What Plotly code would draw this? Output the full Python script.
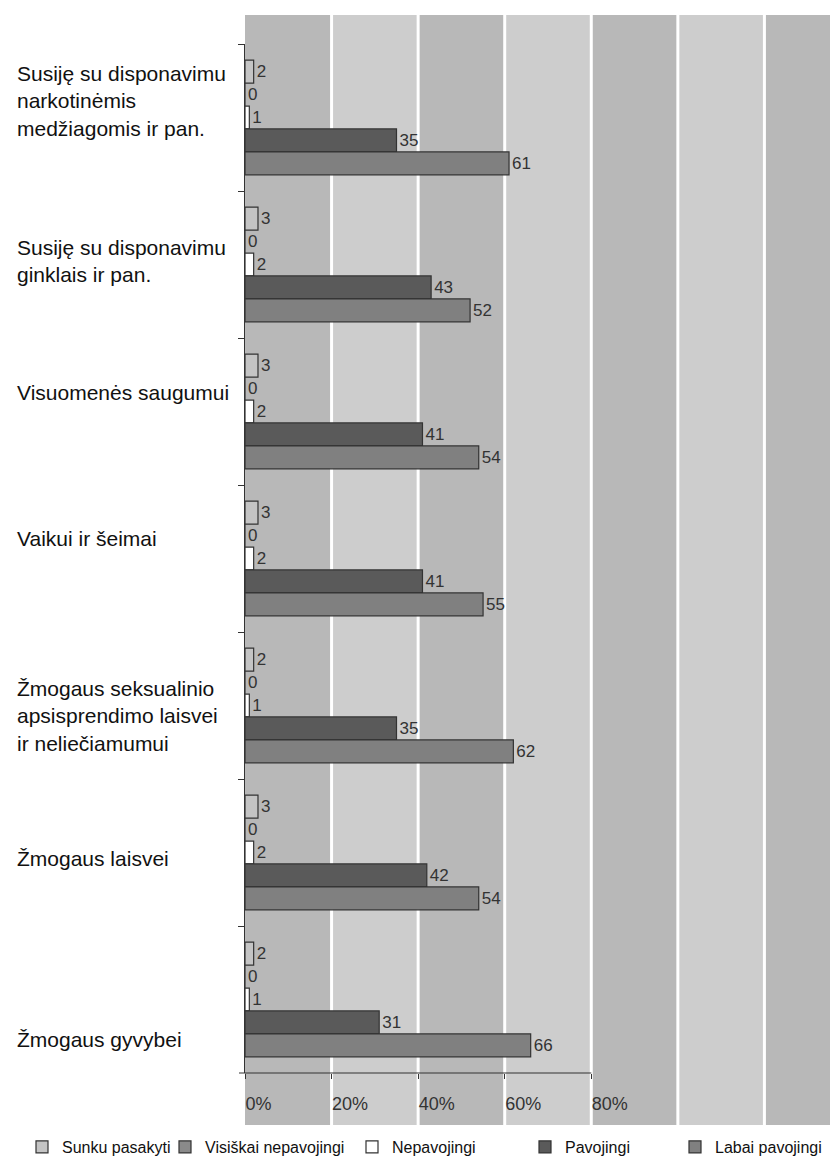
import plotly.graph_objects as go

categories = [
    "Susiję su disponavimu<br>narkotinėmis<br>medžiagomis ir pan.",
    "Susiję su disponavimu<br>ginklais ir pan.",
    "Visuomenės saugumui",
    "Vaikui ir šeimai",
    "Žmogaus seksualinio<br>apsisprendimo laisvei<br>ir neliečiamumui",
    "Žmogaus laisvei",
    "Žmogaus gyvybei",
]
cat_ids = ["c1", "c2", "c3", "c4", "c5", "c6", "c7"]

series_names = ["Sunku pasakyti", "Visiškai nepavojingi", "Nepavojingi", "Pavojingi", "Labai pavojingi"]
sunku = [2, 3, 3, 3, 2, 3, 2]
visiskai = [0, 0, 0, 0, 0, 0, 0]
nepavojingi = [1, 2, 2, 2, 1, 2, 1]
pavojingi = [35, 43, 41, 41, 35, 42, 31]
labai = [61, 52, 54, 55, 62, 54, 66]
series_values = [sunku, visiskai, nepavojingi, pavojingi, labai]

tick_vals = [0, 20, 40, 60, 80]
tick_text = ["0%", "20%", "40%", "60%", "80%"]

# ---- style / layout ----
colors = ["#c4c4c4", "#8a8a8a", "#ffffff", "#5a5a5a", "#808080"]
legend_widths = [98, 142, 128, 105, 120]
label_shift = [17, 4, 19, 20, -10, -6, -40]
XMAX = 137.0
OFF = 8  # page body margin
SW, SH = 838, 1159  # screen size
W, H = SW - OFF, SH - OFF
ML = 245 - OFF
MR = 0
MT = 44 - OFF
PLOT_BOTTOM = 1073 - OFF
MB = H - PLOT_BOTTOM
plot_h = PLOT_BOTTOM - MT
plot_w = W - ML
band_top = 1 + (MT - (15 - OFF)) / plot_h
band_bot = -((1125 - OFF) - PLOT_BOTTOM) / plot_h

fig = go.Figure()
for name, vals, col, lw in zip(series_names, series_values, colors, legend_widths):
    fig.add_trace(go.Bar(
        y=cat_ids, x=vals, name=name, orientation="h",
        marker=dict(color=col, line=dict(color="#333333", width=1.2)),
        text=[str(v) for v in vals], texttemplate="%{text}", textposition="outside",
        textfont=dict(size=17, color="#333333", family="Liberation Sans"),
        cliponaxis=False, legendwidth=lw,
    ))

shapes = []
band_cols = ["#b8b8b8", "#cdcdcd"]
x = 0
k = 0
while x < XMAX:
    shapes.append(dict(type="rect", xref="paper", yref="paper",
                       x0=x / XMAX, x1=min(x + 20, XMAX) / XMAX,
                       y0=band_bot, y1=band_top,
                       fillcolor=band_cols[k % 2], line=dict(width=0), layer="below"))
    x += 20
    k += 1
for gx in range(20, int(XMAX), 20):
    shapes.append(dict(type="line", xref="paper", yref="paper",
                       x0=gx / XMAX, x1=gx / XMAX, y0=band_bot, y1=band_top,
                       line=dict(color="#ffffff", width=3), layer="below"))
# x axis line only to 80%
shapes.append(dict(type="line", xref="paper", yref="paper",
                   x0=-6 / plot_w, x1=80 / XMAX, y0=0, y1=0,
                   line=dict(color="#333333", width=1.2)))

annotations = []
for cid, lab, sh in zip(cat_ids, categories, label_shift):
    annotations.append(dict(xref="paper", yref="y", x=-(245 - 15) / plot_w, y=cid,
                            text=lab, showarrow=False, xanchor="left", yanchor="middle",
                            align="left", yshift=sh,
                            font=dict(size=21, color="#111111", family="Liberation Sans")))

fig.update_layout(
    width=W, height=H, autosize=False,
    margin=dict(l=ML, r=MR, t=MT, b=MB, pad=0, autoexpand=False),
    paper_bgcolor="white", plot_bgcolor="rgba(0,0,0,0)",
    barmode="group", bargap=0.22, bargroupgap=0,
    shapes=shapes, annotations=annotations,
    font=dict(family="Liberation Sans", color="#222222"),
    showlegend=True,
    legend=dict(orientation="h", x=-(245 - 22) / plot_w, y=-((1130 - OFF) - PLOT_BOTTOM) / plot_h,
                xanchor="left", yanchor="top", font=dict(size=16, color="#111111"),
                bgcolor="rgba(0,0,0,0)", traceorder="normal"),
    xaxis=dict(range=[0, XMAX], tickvals=tick_vals, ticktext=tick_text,
               showgrid=False, zeroline=False, showline=False,
               ticks="outside", ticklen=5, tickcolor="#333333",
               ticklabelposition="outside right", ticklabelstandoff=14,
               tickfont=dict(size=18, color="#333333")),
    yaxis=dict(autorange="reversed", showgrid=False, zeroline=False,
               showline=True, linecolor="#333333", linewidth=1.2,
               ticks="outside", tickson="boundaries", ticklen=6, tickcolor="#333333",
               showticklabels=False),
)

fig.write_html("out.html")
